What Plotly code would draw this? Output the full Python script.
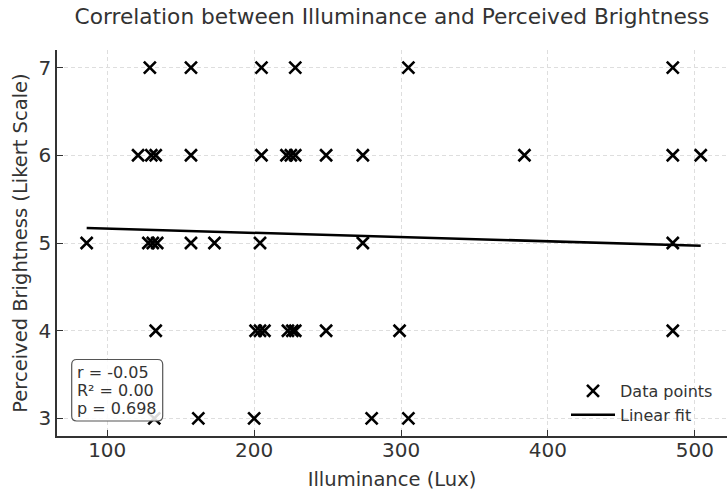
import plotly.graph_objects as go

# Data
illum_7 = [129, 157, 205, 228, 305, 485]
illum_6 = [121, 130, 133, 157, 205, 222, 225, 228, 249, 274, 384, 485, 504]
illum_5 = [86, 128, 131, 134, 157, 173, 204, 274, 485]
illum_4 = [133, 201, 204, 207, 223, 226, 228, 249, 299, 485]
illum_3 = [132, 162, 200, 280, 305]

illuminance = illum_7 + illum_6 + illum_5 + illum_4 + illum_3
brightness = ([7] * len(illum_7) + [6] * len(illum_6) + [5] * len(illum_5)
              + [4] * len(illum_4) + [3] * len(illum_3))

fit_x = [86, 504]
fit_y = [5.17, 4.97]

x_ticks = [100, 200, 300, 400, 500]
y_ticks = [3, 4, 5, 6, 7]

stats_lines = ["r = -0.05", "R² = 0.00", "p = 0.698"]

TXT = "#333333"
FONT = "DejaVu Sans"

# plot area in pixels
L, R, T, B = 57, 727, 50, 436
W, H = R - L, B - T


def px(x):
    return (x - L) / W


def py(y):
    return (B - y) / H


fig = go.Figure()
fig.add_trace(go.Scatter(
    x=illuminance, y=brightness, mode="markers", name="Data points",
    marker=dict(symbol="x-thin", size=12, color="black",
                line=dict(color="black", width=2.6)),
))
fig.add_trace(go.Scatter(
    x=fit_x, y=fit_y, mode="lines", name="Linear fit",
    line=dict(color="black", width=2.5),
))

fig.update_layout(
    width=727, height=492,
    margin=dict(l=L, r=727 - R, t=T, b=492 - B),
    paper_bgcolor="white", plot_bgcolor="white",
    font=dict(family=FONT, color=TXT, size=16),
    title=dict(text="Correlation between Illuminance and Perceived Brightness",
               x=392 / 727, xanchor="center", xref="container",
               y=1 - 16 / 492, yanchor="middle", yref="container",
               font=dict(size=21.7, color=TXT, family=FONT)),
    showlegend=True,
    legend=dict(x=px(566), xanchor="left", y=py(374), yanchor="top",
                bgcolor="rgba(255,255,255,0)", font=dict(size=16, color=TXT, family=FONT),
                itemwidth=44, tracegroupgap=0),
)

fig.update_xaxes(
    range=[65.8, 521.9], tickvals=x_ticks, ticks="inside", ticklen=6, tickwidth=1.2,
    tickcolor=TXT, showline=True, linecolor=TXT, linewidth=1.5,
    showgrid=True, gridcolor="#dedede", griddash="4px,3px", gridwidth=0.8,
    zeroline=False, tickfont=dict(size=20, color=TXT), ticklabelstandoff=-5,
    title=dict(text="Illuminance (Lux)", font=dict(size=19.5, color=TXT), standoff=12),
)
fig.update_yaxes(
    range=[2.8, 7.2], tickvals=y_ticks, ticks="inside", ticklen=6, tickwidth=1.2,
    tickcolor=TXT, showline=True, linecolor=TXT, linewidth=1.5,
    showgrid=True, gridcolor="#dedede", griddash="4px,3px", gridwidth=0.8,
    zeroline=False, tickfont=dict(size=20, color=TXT), ticklabelstandoff=0,
    title=dict(text="Perceived Brightness (Likert Scale)", font=dict(size=19.5, color=TXT), standoff=6),
)

# rounded stats box
x0, x1, y0, y1, r = 71.7, 162.7, 359.5, 421.0, 5
fig.add_shape(
    type="path", xref="paper", yref="paper",
    path=(f"M {px(x0 + r)},{py(y0)} L {px(x1 - r)},{py(y0)} "
          f"Q {px(x1)},{py(y0)} {px(x1)},{py(y0 + r)} L {px(x1)},{py(y1 - r)} "
          f"Q {px(x1)},{py(y1)} {px(x1 - r)},{py(y1)} L {px(x0 + r)},{py(y1)} "
          f"Q {px(x0)},{py(y1)} {px(x0)},{py(y1 - r)} L {px(x0)},{py(y0 + r)} "
          f"Q {px(x0)},{py(y0)} {px(x0 + r)},{py(y0)} Z"),
    line=dict(color="#555555", width=1.2), fillcolor="rgba(255,255,255,0.85)",
    layer="above",
)
for i, line in enumerate(stats_lines):
    fig.add_annotation(
        text=line, xref="paper", yref="paper",
        x=px(75), y=py(372 + i * 18.3), xanchor="left", yanchor="middle",
        showarrow=False, align="left",
        font=dict(size=16, color=TXT, family=FONT),
    )

fig.write_html("out.html")
